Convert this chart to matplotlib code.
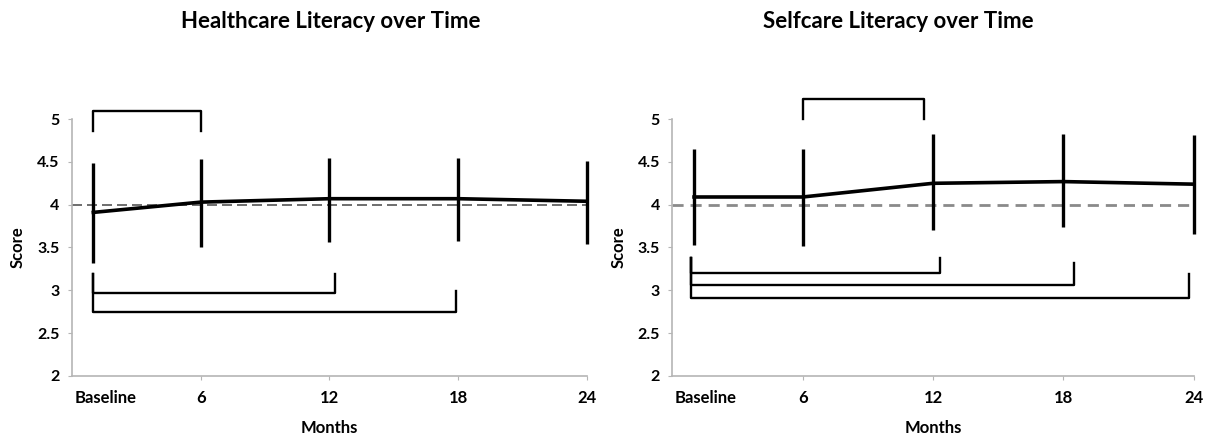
import matplotlib.pyplot as plt

plt.rcParams['font.family'] = ['Lato', 'DejaVu Sans']

months = [1, 6, 12, 18, 24]
month_labels = ["Baseline", "6", "12", "18", "24"]

# Healthcare literacy: mean and error-bar ends
hc_mean = [3.91, 4.03, 4.07, 4.07, 4.04]
hc_low = [3.32, 3.50, 3.56, 3.58, 3.54]
hc_high = [4.49, 4.53, 4.55, 4.55, 4.51]

# Selfcare literacy
sc_mean = [4.09, 4.09, 4.25, 4.27, 4.24]
sc_low = [3.53, 3.52, 3.70, 3.74, 3.66]
sc_high = [4.65, 4.65, 4.83, 4.83, 4.81]

# significance brackets: x start, x end, bar level, left tip, right tip
hc_brackets = [(1, 6, 5.10, 4.86, 4.86),
               (1, 12.25, 2.97, 3.19, 3.19),
               (1, 17.9, 2.75, 3.19, 2.99)]
sc_brackets = [(6, 11.6, 5.23, 5.0, 5.0),
               (0.85, 12.3, 3.20, 3.38, 3.38),
               (0.85, 18.5, 3.06, 3.38, 3.32),
               (0.85, 23.8, 2.91, 3.38, 3.19)]

yticks = [2, 2.5, 3, 3.5, 4, 4.5, 5]
ytick_labels = ["2", "2.5", "3", "3.5", "4", "4.5", "5"]

fig = plt.figure(figsize=(12.18, 4.38), dpi=100)
ax1 = fig.add_axes([0.059, 0.142, 0.423, 0.586])
ax2 = fig.add_axes([0.552, 0.142, 0.428, 0.586])


def draw(ax, mean, low, high, brackets, dash_style):
    ax.axhline(4, **dash_style)
    ax.vlines(months, low, high, color='black', lw=2.4, clip_on=False)
    ax.plot(months, mean, color='black', lw=2.6, solid_joinstyle='round',
            clip_on=False)
    for x0, x1, yb, yl, yr in brackets:
        ax.plot([x0, x0, x1, x1], [yl, yb, yb, yr], color='black', lw=1.7,
                clip_on=False, solid_joinstyle='round')
    ax.set_xlim(0, 24)
    ax.set_ylim(2, 5)
    ax.set_yticks(yticks)
    ax.set_yticklabels(ytick_labels, fontsize=11.5, fontweight='bold')
    # baseline label sits a little right of its point, as in the original
    ax.set_xticks(months[1:])
    ax.set_xticklabels(month_labels[1:], fontsize=12, fontweight='bold')
    ax.annotate(month_labels[0], xy=(1.55, 0), xycoords=('data', 'axes fraction'),
                xytext=(0, -10), textcoords='offset points', ha='center',
                va='top', fontsize=12, fontweight='bold')
    for s in ['top', 'right']:
        ax.spines[s].set_visible(False)
    for s in ['left', 'bottom']:
        ax.spines[s].set_color('#b5b5b5')
        ax.spines[s].set_linewidth(1.2)
    ax.tick_params(axis='both', colors='#b5b5b5', labelcolor='black', length=3)
    ax.tick_params(axis='x', pad=7)
    ax.tick_params(axis='y', pad=6)
    ax.set_xlabel("Months", fontsize=12, fontweight='bold', labelpad=10)
    ax.set_ylabel("Score", fontsize=12, fontweight='bold', labelpad=8)


draw(ax1, hc_mean, hc_low, hc_high, hc_brackets,
     dict(color='#555555', lw=1.2, ls=(0, (6, 3))))
draw(ax2, sc_mean, sc_low, sc_high, sc_brackets,
     dict(color='#8a8a8a', lw=2.0, ls=(0, (4, 2.5))))

fig.text(331 / 1218, 1 - 21 / 438, "Healthcare Literacy over Time",
         fontsize=16, fontweight='bold', ha='center', va='center')
fig.text(898 / 1218, 1 - 21 / 438, "Selfcare Literacy over Time",
         fontsize=16, fontweight='bold', ha='center', va='center')

fig.savefig("out.png", dpi=100)
